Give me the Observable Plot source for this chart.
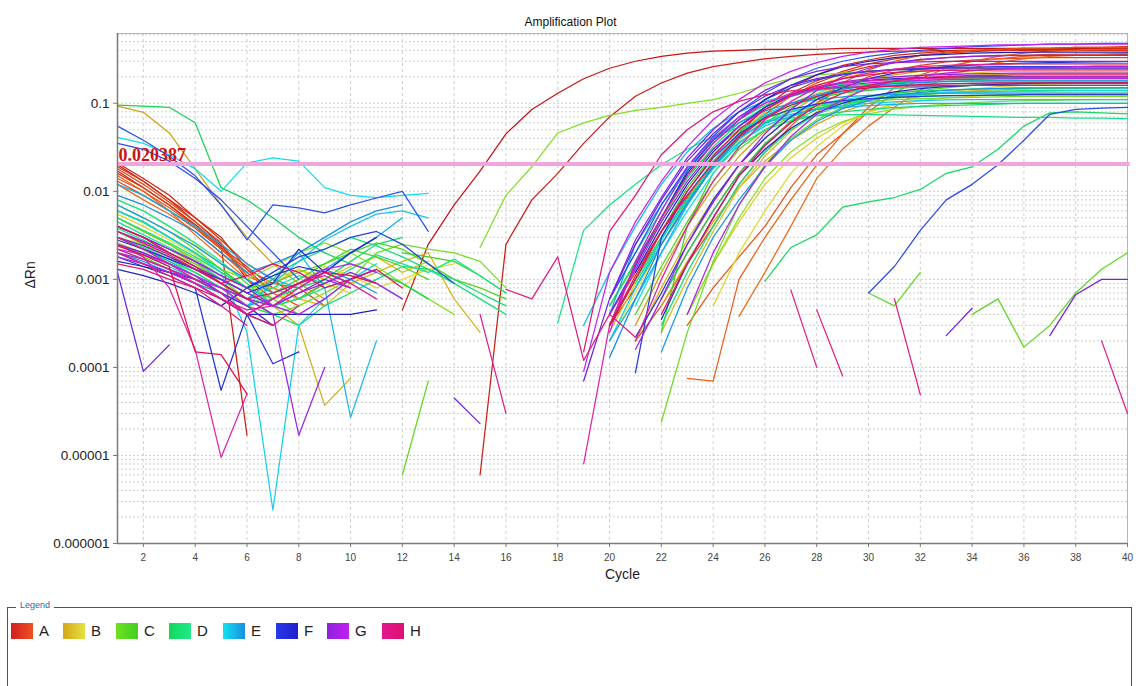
<!DOCTYPE html>
<html>
<head>
<meta charset="utf-8">
<script src="https://cdn.jsdelivr.net/npm/d3@7"></script>
<script src="https://cdn.jsdelivr.net/npm/@observablehq/plot@0.6"></script>
<style>
  html, body { margin: 0; padding: 0; background: #fff; width: 1136px; height: 686px; overflow: hidden; }
  #chart { position: absolute; left: 0; top: 0; }
  #legend { position: absolute; left: 7px; top: 607px; width: 1125px; height: 120px;
            border: 1.5px solid #2f5b78; box-sizing: border-box; font-family: "Liberation Sans", Arial, sans-serif; }
  #legend .cap { position: absolute; left: 8px; top: -8px; background: #fff; padding: 0 4px;
                 font-size: 9px; color: #3a62a8; }
  #legend .item { position: absolute; top: 14px; display: flex; align-items: center; }
  #legend .sw { width: 22px; height: 16px; }
  #legend .lab { margin-left: 6px; font-size: 15px; color: #222; }
</style>
</head>
<body>
<div id="chart"></div>
<div id="legend"><span class="cap">Legend</span></div>
<script>
// ---- data (ΔRn per cycle; "n|" sets the cycle where the following values start) ----
const cycles = d3.range(1, 41);
const rowNames = ["A", "B", "C", "D", "E", "F", "G", "H"];
const rowColors = [
  ["#c81414", "#ee6a18"], ["#cfa414", "#e4e034"], ["#8ce024", "#3ed024"], ["#18d458", "#14e898"],
  ["#12dcf0", "#1a8ee2"], ["#2a52f0", "#2020bc"], ["#6a22e0", "#c424f0"], ["#e024a8", "#e0104e"]
];
const legendSwatch = [
  ["#d02020", "#f05020"], ["#d4a818", "#e6e040"], ["#70e020", "#40d020"], ["#12d860", "#22e888"],
  ["#14e0f0", "#1890e0"], ["#2838e8", "#2020d0"], ["#9020e0", "#c020f0"], ["#e01890", "#e01070"]
];
const threshold = 0.020387;
const thresholdLabel = "0.020387";
const xTicks = d3.range(2, 41, 2);
const yTicks = [1e-6, 1e-5, 1e-4, 1e-3, 1e-2, 1e-1];
const yTickLabels = ["0.000001", "0.00001", "0.0001", "0.001", "0.01", "0.1"];

const rowA = [
  "1| 2e-2 1.3e-2 8e-3 4.5e-3 2.5e-3 1e-3 6e-4 12| 4.5e-4 2.5e-3 7e-3 1.7e-2 4.5e-2 8.5e-2 .13 .19 .25 .3 .34 .37 .39 .40 .41 .41 .41 .42 .42 .42 .42 .42 .42 .42 .42 .42 .42 .42 .42",
  "1| 1.7e-2 1.1e-2 7e-3 4.2e-3 2.4e-3 1.7e-5 15| 6e-6 2.5e-3 8e-3 1.6e-2 3.5e-2 7e-2 .12 .17 .22 .26 .29 .32 .34 .36 .37 .38 .39 .39 .4 .4 .4 .41 .41 .41 .42 .42",
  "1| 2.1e-2 1.4e-2 9e-3 5e-3 3e-3 1.3e-3 7e-4 20| 3e-4 8e-4 2.5e-3 7e-3 1.9e-2 4.5e-2 9e-2 .15 .21 .27 .31 .35 .37 .39 .40 .41 .42 .42 .43 .43 .44 .44",
  "1| 1.9e-2 1.3e-2 8e-3 5e-3 2.8e-3 1.5e-3 1e-3 6e-4 9e-4 20| 3e-4 1e-3 3e-3 8.5e-3 2e-2 4.3e-2 8e-2 .13 .18 .23 .28 .32 .35 .37 .385 .395 .4 .4 .4 .4 .4",
  "1| 1.6e-2 1.1e-2 7e-3 4e-3 2.3e-3 1.4e-3 8e-4 6e-4 20| 4e-4 1.2e-3 3.5e-3 9e-3 2.1e-2 4.2e-2 7.5e-2 .12 .17 .22 .26 .29 .31 .33 .34 .35 .35 .36 .36 .36 .36",
  "1| 1.3e-2 9e-3 6e-3 3.8e-3 2.2e-3 1.3e-3 9e-4 8e-4 5e-4 22| 6e-4 2e-3 6e-3 1.6e-2 3.4e-2 6.2e-2 .1 .15 .2 .24 .27 .295 .31 .32 .325 .33 .33 .33 .33",
  "1| 1.8e-2 1.2e-2 7.5e-3 4.5e-3 2.6e-3 1.1e-3 21| 2e-4 5e-4 1.5e-3 4e-3 1.2e-2 2.8e-2 5.5e-2 .1 .17 .24 .3 .35 .38 .40 .41 .42 .42 .43 .43 .43",
  "1| 1.4e-2 1e-2 6.5e-3 4e-3 2.2e-3 1.2e-3 7e-4 5e-4 23| 3e-4 8e-4 1.8e-3 4e-3 1.1e-2 2.6e-2 4.5e-2 8e-2 .13 .19 .25 .30 .34 .37 .39 .40 .41 .41",
  "1| 1.5e-2 1e-2 6e-3 3.2e-3 1.8e-3 1e-3 5e-4 23| 7.5e-5 7e-5 1e-3 3e-3 8e-3 2e-2 4.5e-2 9e-2 .15 .21 .26 .30 .32 .34 .35 .36 .36 .37",
  "1| 1.2e-2 8e-3 5.5e-3 3.5e-3 2e-3 1.1e-3 8e-4 6e-4 25| 3.8e-4 1.2e-3 4e-3 1.4e-2 3e-2 5.5e-2 9e-2 .14 .2 .25 .29 .32 .34 .35 .36 .37"
];
const rowB = [
  "1| 9.3e-2 7.9e-2 4.6e-2 1.8e-2 7e-3 3e-3 1.5e-3 9e-4 6e-4 21| 3e-4 1.2e-3 4e-3 1.1e-2 2.5e-2 4.8e-2 8e-2 .12 .16 .19 .21 .23 .24 .25 .25 .26 .26 .26 .27 .27",
  "1| 5e-3 3.5e-3 2.5e-3 1.6e-3 9e-4 6e-4 5e-4 3e-4 3.7e-5 7.5e-5 22| 5e-4 1.6e-3 4.5e-3 1.1e-2 2.2e-2 3.8e-2 5.8e-2 8e-2 .1 .115 .125 .132 .138 .142 .145 .147 .148 .15 .15",
  "1| 4e-3 3e-3 2.2e-3 1.5e-3 1e-3 7e-4 8e-4 6e-4 5e-4 9e-4 1.2e-3 1.6e-3 2e-3 6e-4 2.5e-4 21| 2e-4 8e-4 2.8e-3 8e-3 2e-2 4e-2 7e-2 .1 .13 .155 .17 .18 .19 .195 .2 .2 .2 .2 .2 .2",
  "1| 2.6e-3 2e-3 1.5e-3 1.1e-3 8e-4 6e-4 9e-4 1.3e-3 1e-3 1.4e-3 1.8e-3 1.2e-3 1.6e-3 22| 2.5e-4 1e-3 3.5e-3 1.1e-2 2.5e-2 4.8e-2 8e-2 .115 .15 .175 .19 .2 .208 .213 .217 .22 .22 .22 .22",
  "1| 3e-3 2.5e-3 1.8e-3 1.4e-3 9e-4 5e-4 4e-4 20| 2.5e-4 9e-4 3e-3 8e-3 1.9e-2 3.8e-2 6.5e-2 .1 .13 .16 .18 .2 .21 .22 .22 .23 .23 .23 .23 .23 .23",
  "1| 6e-3 4.5e-3 3e-3 2e-3 1.3e-3 8e-4 1e-3 1.3e-3 9e-4 7e-4 23| 4e-4 1.5e-3 4.5e-3 1.2e-2 2.4e-2 4e-2 6e-2 8e-2 .095 .107 .115 .12 .125 .128 .13 .13 .13 .13",
  "1| 5.5e-3 4e-3 2.8e-3 1.9e-3 1.2e-3 8e-4 6e-4 9e-4 1.4e-3 1.1e-3 8e-4 1e-3 1.3e-3 1.5e-3 24| 5e-4 2e-3 6e-3 1.6e-2 3.2e-2 5.5e-2 8e-2 .1 .12 .135 .145 .155 .16 .165 .168 .17 .17",
  "1| 8e-3 6e-3 4e-3 2.5e-3 1.5e-3 9e-4 6e-4 7e-4 9e-4 12| 8e-4 1.5e-3 20| 2e-4 7e-4 2.5e-3 8e-3 2.2e-2 4.5e-2 8e-2 .12 .16 .2 .22 .24 .25 .26 .27 .27 .28 .28 .28 .28 .28"
];
const rowC = [
  "1| 6e-3 4.4e-3 3e-3 2e-3 1.3e-3 1e-3 1.4e-3 2e-3 2.6e-3 2e-3 1.4e-3 9e-4 6e-4 4e-4 23| 4e-4 1.5e-3 5e-3 1.4e-2 2.8e-2 4.5e-2 6.2e-2 7.6e-2 8.6e-2 9.3e-2 9.8e-2 .102 .105 .107 .108 .109 .11 .11",
  "1| 3e-3 2.2e-3 1.6e-3 1.2e-3 8e-4 6e-4 4e-4 15| 2.3e-3 9e-3 1.9e-2 4.6e-2 6e-2 7.3e-2 8.3e-2 9e-2 .1 .11 .13 .16 .19 .21 .22 .23 .24 .24 .25 .25 .25 .25 .25 .25 .25 .25",
  "1| 4e-3 3e-3 2e-3 1.5e-3 1e-3 6e-4 4e-4 5e-4 7e-4 1e-3 2e-3 2.5e-3 2.2e-3 2e-3 1.6e-3 8e-4 20| 5e-4 1.5e-3 4.5e-3 1.5e-2 3e-2 5e-2 6.8e-2 8.2e-2 9.2e-2 .1 .105 .11 .113 .115 .117 .118 .12 .12 .12 .12 .12",
  "1| 5e-3 3.5e-3 2.5e-3 1.7e-3 1.1e-3 8e-4 6e-4 4e-4 22| 2.4e-5 2.5e-4 1.6e-3 7e-3 2e-2 4e-2 6.5e-2 9e-2 .11 .13 .14 .15 .16 .165 .17 .17 .17 .17 .17",
  "1| 2.5e-3 1.8e-3 1.3e-3 9e-4 7e-4 5e-4 3e-4 12| 6e-6 7e-5 30| 7e-4 5e-4 1.2e-3 34| 4e-4 6e-4 1.7e-4 3e-4 7e-4 1.3e-3 2e-3",
  "1| 7e-3 5e-3 3.5e-3 2.2e-3 1.3e-3 8e-4 9e-4 1.2e-3 1.5e-3 2e-3 2.6e-3 2.2e-3 1.5e-3 1e-3 8e-4 6e-4 21| 4e-4 1.4e-3 4.5e-3 1.3e-2 3e-2 5e-2 7e-2 8.8e-2 .1 .11 .12 .125 .13 .133 .136 .138 .14 .14 .14 .14",
  "1| 2.2e-3 1.7e-3 1.3e-3 1e-3 7e-4 5e-4 7e-4 1e-3 1.5e-3 2.2e-3 1.8e-3 1.4e-3 1e-3 22| 2.5e-4 4e-3 1.6e-2 3.5e-2 6e-2 9e-2 .12 .145 .162 .174 .182 .187 .19 .19 .19 .19 .19 .19 .19",
  "1| 3.5e-3 2.5e-3 1.8e-3 1.3e-3 1e-3 7e-4 5e-4 6e-4 9e-4 12| 2e-3 1.8e-3 1.6e-3 1.1e-3 7e-4 20| 3e-4 1e-3 3.5e-3 1.1e-2 2.6e-2 4.8e-2 7.2e-2 9.5e-2 .115 .13 .14 .148 .153 .157 .16 .16 .16 .16 .16 .16 .16"
];
const rowD = [
  "1| 9.5e-2 9.3e-2 9e-2 6e-2 1.1e-2 8e-3 5e-3 3e-3 2e-3 1.5e-3 1.2e-3 9e-4 6e-4 22| 6e-4 2e-3 6e-3 1.6e-2 3.5e-2 6e-2 8.5e-2 .105 .12 .13 .137 .142 .145 .147 .148 .15 .15 .15 .15",
  "1| 2.5e-3 2e-3 1.5e-3 1.1e-3 7e-4 5e-4 26| 9.5e-4 2.3e-3 3.2e-3 6.6e-3 7.6e-3 8.5e-3 1.05e-2 1.6e-2 1.9e-2 3e-2 5.5e-2 7.8e-2 8e-2 7.8e-2 7.6e-2",
  "1| 6e-3 4.5e-3 3e-3 2e-3 1.3e-3 8e-4 6e-4 8e-4 1e-3 1.6e-3 2.5e-3 3e-3 20| 5e-4 1.6e-3 5e-3 1.4e-2 3.2e-2 6e-2 9e-2 .12 .14 .155 .165 .17 .175 .178 .18 .18 .18 .18 .18 .18 .18",
  "1| 3e-3 2.3e-3 1.7e-3 1.2e-3 8e-4 5e-4 4e-4 3e-4 5e-4 7e-4 1e-3 1.4e-3 1.3e-3 1e-3 7e-4 5e-4 21| 1e-3 3e-3 8e-3 1.8e-2 3.3e-2 5e-2 6.3e-2 7.3e-2 8e-2 8.5e-2 8.9e-2 9.2e-2 9.4e-2 9.6e-2 9.8e-2 .1 .1 .1 .1 .1",
  "1| 5e-3 3.6e-3 2.6e-3 1.8e-3 1.2e-3 8e-4 1.1e-3 1.6e-3 2.2e-3 3e-3 2.4e-3 1.8e-3 1.3e-3 9e-4 6e-4 4e-4 22| 3e-4 1.2e-3 4e-3 1.2e-2 2.8e-2 5e-2 7.5e-2 9.5e-2 .11 .12 .127 .132 .135 .137 .138 .14 .14 .14 .14",
  "1| 4.5e-3 3.2e-3 2.3e-3 1.6e-3 1e-3 7e-4 5e-4 6e-4 8e-4 1e-3 1.3e-3 18| 3.2e-4 3.6e-3 7e-3 1.2e-2 2e-2 3e-2 4.2e-2 5.3e-2 6.2e-2 6.8e-2 7.2e-2 7.4e-2 7.5e-2 7.4e-2 7.3e-2 7.2e-2 7.1e-2 7e-2 6.9e-2 6.9e-2 6.8e-2 6.8e-2 6.7e-2",
  "1| 3.8e-3 2.8e-3 2e-3 1.4e-3 9e-4 6e-4 8e-4 1.1e-3 9e-4 1.3e-3 1.9e-3 1.5e-3 1.2e-3 1.7e-3 1.1e-3 7e-4 21| 9e-4 2.8e-3 8e-3 2.1e-2 4e-2 6.2e-2 8e-2 9.4e-2 .104 .111 .116 .119 .121 .123 .124 .125 .125 .125 .125 .125",
  "1| 8e-3 6e-3 4e-3 2.6e-3 1.6e-3 9e-4 5e-4 4e-4 20| 6e-4 2e-3 6e-3 1.8e-2 3.8e-2 6.5e-2 9.5e-2 .125 .15 .165 .178 .186 .192 .196 .198 .2 .2 .2 .2 .2 .2"
];
const rowE = [
  "1| 4.1e-2 3.5e-2 2.6e-2 1.8e-2 1e-2 2.1e-2 2.4e-2 2.2e-2 1.1e-2 9e-3 8.5e-3 9e-3 9.5e-3 21| 5e-4 2e-3 6e-3 1.6e-2 3.5e-2 5.8e-2 8e-2 9.8e-2 .11 .12 .125 .13 .132 .134 .135 .136 .137 .138 .138 .138",
  "1| 6e-3 4.5e-3 3e-3 2e-3 1.2e-3 2.5e-4 2.4e-6 3e-4 6e-4 1e-3 1.5e-3 20| 2e-4 8e-4 2.8e-3 9e-3 2.2e-2 4.5e-2 7.5e-2 .1 .12 .135 .145 .15 .155 .158 .16 .16 .16 .16 .16 .16 .16",
  "1| 2.5e-3 1.9e-3 1.4e-3 1e-3 7e-4 5e-4 9e-4 1.6e-3 2.8e-3 4e-3 5.5e-3 6e-3 5e-3 21| 8e-4 2.5e-3 7e-3 1.9e-2 3.6e-2 5.5e-2 7.2e-2 8.5e-2 9.4e-2 .1 .104 .107 .109 .11 .11 .11 .11 .11 .11 .11",
  "1| 3e-3 2.2e-3 1.6e-3 1.1e-3 8e-4 6e-4 1e-3 2e-3 8e-4 2.7e-5 2e-4 19| 3e-4 1.2e-3 4e-3 1.2e-2 2.8e-2 5.2e-2 8e-2 .105 .125 .14 .15 .157 .162 .165 .167 .168 .17 .17 .17 .17 .17 .17",
  "1| 1.2e-2 9e-3 6e-3 4e-3 2.5e-3 1.5e-3 1e-3 8e-4 1.2e-3 2e-3 3e-3 5e-3 20| 2e-4 6e-4 2e-3 7e-3 2e-2 4e-2 6e-2 7.5e-2 8.5e-2 9e-2 9.4e-2 9.7e-2 .1 .1 .1 .1 .1 .1 .1 .1 .1",
  "1| 2e-3 1.6e-3 1.2e-3 9e-4 7e-4 5e-4 6e-4 9e-4 1.3e-3 2e-3 20| 4e-4 2.5e-3 7e-3 1.8e-2 3.8e-2 6e-2 8.2e-2 .1 .11 .118 .123 .126 .128 .13 .13 .13 .13 .13 .13 .13 .13",
  "1| 7e-3 5e-3 3.5e-3 2.4e-3 1.5e-3 1e-3 7e-4 9e-4 1.3e-3 1e-3 7e-4 22| 1.5e-4 8e-4 3e-3 8e-3 1.9e-2 3.8e-2 6.2e-2 8.7e-2 .107 .122 .133 .14 .145 .148 .15 .15 .15 .15 .15",
  "1| 9e-3 7e-3 5e-3 3.5e-3 2e-3 1.2e-3 1.5e-3 2e-3 3e-3 4.5e-3 6e-3 7e-3 20| 1.3e-4 6e-4 2.5e-3 7.5e-3 1.9e-2 4e-2 7e-2 .1 .125 .145 .158 .167 .172 .176 .178 .18 .18 .18 .18 .18 .18"
];
const rowF = [
  "1| 5.5e-2 3.8e-2 2.5e-2 1.5e-2 7e-3 2.8e-3 7e-3 6.5e-3 5.7e-3 7e-3 8.4e-3 1e-2 3.5e-3 20| 6e-4 2e-3 7e-3 1.9e-2 4.2e-2 8e-2 .13 .19 .25 .3 .34 .37 .4 .42 .44 .45 .46 .47 .47 .48 .48",
  "1| 3.5e-2 3e-2 2.2e-2 1.4e-2 8e-3 4e-3 2e-3 1e-3 30| 7e-4 1.4e-3 3.6e-3 8e-3 1.2e-2 2e-2 3.8e-2 7.5e-2 8.5e-2 8.8e-2 9e-2",
  "1| 4e-3 3e-3 2.2e-3 1.6e-3 1.1e-3 8e-4 1.2e-3 1.8e-3 2.2e-3 3e-3 3.5e-3 2.5e-3 1.5e-3 9e-4 20| 4e-4 1.4e-3 5e-3 1.7e-2 3.8e-2 7e-2 .11 .15 .185 .21 .23 .243 .25 .255 .258 .26 .26 .26 .26 .26 .26",
  "1| 2e-3 1.5e-3 1.2e-3 1e-3 7e-4 4e-4 3e-4 21| 8.7e-5 3e-3 1e-2 2.4e-2 4.5e-2 6.8e-2 8.5e-2 9.8e-2 .107 .113 .117 .12 .122 .123 .124 .125 .125 .125 .125 .125",
  "1| 1.8e-3 1.4e-3 1.1e-3 8e-4 5.5e-5 4e-4 1.1e-4 1.5e-4 21| 2.2e-4 7e-4 2.5e-3 8e-3 2e-2 4e-2 7e-2 .11 .15 .19 .22 .245 .26 .272 .28 .285 .29 .293 .295 .297",
  "1| 2.8e-3 2.2e-3 1.7e-3 1.3e-3 1e-3 7e-4 9e-4 2.2e-3 1.2e-3 9e-4 21| 1.2e-3 4e-3 1.2e-2 2.8e-2 5.5e-2 9e-2 .125 .15 .17 .182 .19 .195 .198 .2 .2 .2 .2 .2 .2 .2",
  "1| 1.3e-3 1.1e-3 9e-4 7e-4 5e-4 8e-4 1.1e-3 1.4e-3 1.2e-3 2e-3 3e-3 22| 3.5e-4 1.5e-3 5e-3 1.5e-2 3e-2 5.2e-2 7.8e-2 .1 .12 .135 .147 .155 .16 .164 .167 .17 .17 .17 .17",
  "1| 1.6e-3 1.4e-3 1.2e-3 9e-4 6e-4 4e-4 4e-4 4e-4 4e-4 4e-4 4.5e-4 20| 3e-4 1.5e-3 5e-3 1.6e-2 3.5e-2 6.5e-2 .11 .16 .21 .26 .3 .33 .35 .36 .37 .375 .38 .38 .38 .38 .38"
];
const rowG = [
  "1| 1.2e-3 9e-5 1.8e-4 19| 7e-5 6e-4 2.5e-3 8e-3 2.2e-2 4.5e-2 8e-2 .12 .16 .19 .215 .23 .24 .245 .25 .25 .25 .25 .25 .25 .25 .25",
  "1| 2.5e-3 2e-3 1.5e-3 1.1e-3 7e-4 5e-4 3e-4 14| 4.5e-5 2.3e-5 33| 2.3e-4 4.7e-4 37| 2.3e-4 6.7e-4 1e-3 1e-3",
  "1| 3e-3 2.4e-3 1.8e-3 1.3e-3 9e-4 6e-4 5e-4 7e-4 1e-3 8e-4 20| 6e-4 2.8e-3 8.5e-3 2.4e-2 5e-2 9e-2 .14 .19 .23 .26 .28 .29 .295 .3 .3 .3 .3 .3 .3 .3 .3",
  "1| 3.5e-3 2.7e-3 2e-3 1.4e-3 1e-3 7e-4 5e-4 7e-4 9e-4 1.2e-3 9e-4 6e-4 21| 1.6e-4 6e-4 2.5e-3 7.5e-3 2e-2 4.5e-2 8.5e-2 .14 .2 .25 .29 .315 .33 .34 .345 .35 .35 .35 .35 .35",
  "1| 2e-3 1.7e-3 1.3e-3 1e-3 8e-4 6e-4 4e-4 1.7e-5 1e-4 20| 4e-4 1.3e-3 4.5e-3 1.3e-2 3e-2 5.5e-2 8.5e-2 .12 .15 .175 .19 .2 .207 .212 .215 .218 .22 .22 .22 .22 .22",
  "1| 4e-3 3e-3 2.2e-3 1.6e-3 1.1e-3 8e-4 5e-4 4e-4 6e-4 1e-3 1.3e-3 23| 4e-4 2e-3 7e-3 1.9e-2 4.2e-2 7.5e-2 .11 .15 .18 .205 .22 .235 .245 .25 .255 .26 .26 .26",
  "1| 1.8e-3 1.5e-3 1.2e-3 9e-4 6e-4 4e-4 6e-4 9e-4 1.3e-3 1.5e-3 1.2e-3 20| 2.5e-4 1.6e-3 6e-3 1.9e-2 4e-2 7e-2 .1 .125 .145 .16 .17 .177 .182 .185 .187 .189 .19 .19 .19 .19 .19",
  "1| 2.2e-3 1.9e-3 1.5e-3 1.1e-3 8e-4 5e-4 19| 9e-5 1.2e-3 4.5e-3 1.3e-2 3.2e-2 6.5e-2 .11 .17 .23 .29 .34 .38 .41 .43 .44 .45 .46 .46 .47 .47 .47 .47"
];
const rowH = [
  "1| 2.5e-3 1.8e-3 8e-4 1.6e-4 9.5e-6 5e-5 19| 8e-6 3e-4 1.5e-3 5e-3 1.5e-2 3.5e-2 6.5e-2 .1 .13 .155 .17 .18 .186 .19 .193 .195 .197 .198 .2 .2 .2 .2",
  "1| 2.2e-3 1.7e-3 1.3e-3 9e-4 6e-4 4.5e-4 5e-4 8e-4 1.2e-3 9e-4 6e-4 21| 2e-4 1e-3 4e-3 1.3e-2 3.2e-2 6.5e-2 .105 .15 .19 .22 .245 .26 .27 .275 .278 .28 .28 .28 .28 .28",
  "1| 3e-3 2.2e-3 1.5e-3 1e-3 7e-4 4e-4 6e-4 9e-4 1.1e-3 8e-4 15| 4e-4 3e-5 27| 7.6e-4 1e-4 39| 2e-4 3e-5",
  "1| 2e-3 1.5e-3 1.1e-3 8e-4 5e-4 3e-4 16| 7.7e-4 6e-4 1.8e-3 1.2e-4 4e-4 2.2e-4 28| 4.5e-4 8e-5 31| 6e-4 4.9e-5",
  "1| 1.5e-3 1.3e-3 1e-3 8e-4 6e-4 4e-4 3e-4 5e-4 19| 1.5e-4 3.5e-3 9e-3 2.6e-2 5e-2 8e-2 .105 .125 .138 .146 .152 .155 .157 .158 .159 .16 .16 .16 .16 .16 .16 .16",
  "1| 3.5e-3 2.6e-3 1.9e-3 1.3e-3 9e-4 1.1e-3 1.5e-3 1.2e-3 8e-4 1e-3 1.3e-3 8e-4 22| 4e-4 1.5e-3 5e-3 1.5e-2 3.3e-2 6e-2 9.5e-2 .13 .16 .18 .195 .202 .206 .208 .21 .21 .21 .21 .21",
  "1| 4e-3 3e-3 2e-3 1.4e-3 9e-4 6e-4 7e-4 9e-4 1.2e-3 1.1e-3 9e-4 20| 3e-4 1e-3 3.5e-3 1e-2 2.5e-2 5e-2 8.5e-2 .125 .16 .19 .21 .225 .232 .236 .238 .24 .24 .24 .24 .24 .24",
  "1| 2.4e-3 1.9e-3 1.4e-3 1.5e-4 1.4e-4 5e-5 20| 3e-4 1.1e-3 3.5e-3 9e-3 2.1e-2 4.2e-2 6.8e-2 9.5e-2 .12 .138 .15 .158 .163 .166 .168 .17 .17 .17 .17 .17 .17"
];
const rows = [rowA, rowB, rowC, rowD, rowE, rowF, rowG, rowH];

// ---- build table ----
function parseWell(s) {
  const v = new Array(cycles.length).fill(null);
  let c = 1;
  for (const t of s.trim().split(/\s+/)) {
    if (t.endsWith("|")) c = +t.slice(0, -1);
    else { if (c >= 1 && c <= cycles.length) v[c - 1] = +t; c++; }
  }
  return v;
}
const table = [];
rows.forEach((wells, r) => {
  const interp = d3.interpolateRgb(rowColors[r][0], rowColors[r][1]);
  wells.forEach((s, i) => {
    const col = interp(wells.length > 1 ? i / (wells.length - 1) : 0);
    const vals = parseWell(s);
    cycles.forEach((c, k) => table.push({well: rowNames[r] + (i + 1), cycle: c, value: vals[k], color: col}));
  });
});

const minorGrid = [];
for (let e = -6; e <= -1; e++) for (let m = 1; m <= 9; m++) {
  const v = m * Math.pow(10, e);
  if (v <= 0.62) minorGrid.push(v);
}

const chart = Plot.plot({
  width: 1136, height: 600,
  marginTop: 33, marginLeft: 117, marginRight: 9, marginBottom: 57,
  style: {fontFamily: "'Liberation Sans', Arial, sans-serif", background: "transparent", overflow: "visible"},
  color: {type: "identity"},
  x: {domain: [1, 40], label: null},
  y: {type: "log", domain: [1e-6, 0.62], label: null},
  marks: [
    Plot.ruleY(minorGrid, {stroke: "#cfcfcf", strokeDasharray: "2,2", strokeWidth: 1}),
    Plot.ruleX(xTicks, {stroke: "#cfcfcf", strokeDasharray: "3,3", strokeWidth: 1}),
    Plot.frame({stroke: "#b4b4b4"}),
    Plot.line(table, {x: "cycle", y: "value", z: "well", stroke: "color", strokeWidth: 1.25, curve: "linear"}),
    Plot.ruleY([threshold], {stroke: "#eea6dc", strokeWidth: 4, x1: 1, x2: 40.1}),
    Plot.text([thresholdLabel], {x: 1, y: threshold, text: d => d, textAnchor: "start", dx: 1, dy: -9,
      fill: "#cc1414", fontWeight: "bold", fontFamily: "'Liberation Serif', serif", fontSize: 18}),
    Plot.ruleY([1e-6], {stroke: "#7a7a7a", strokeWidth: 1.5}),
    Plot.ruleX([1], {stroke: "#7a7a7a", strokeWidth: 1.5}),
    Plot.axisX({ticks: xTicks, tickSize: 4, tickPadding: 6, tickFormat: d => String(d), fontSize: 10, fill: "#444", stroke: "#777", label: null}),
    Plot.axisY({ticks: yTicks, tickSize: 4, tickPadding: 4, tickFormat: d => yTickLabels[yTicks.indexOf(d)], fontSize: 13.5, fill: "#222", stroke: "#777", label: null}),
    Plot.text(["Amplification Plot"], {frameAnchor: "top", dx: -52, dy: -16, fontSize: 12, fill: "#111"}),
    Plot.text(["Cycle"], {frameAnchor: "bottom", dy: 35, fontSize: 14, fill: "#222"}),
    Plot.text(["ΔRn"], {frameAnchor: "left", dx: -87, rotate: -90, fontSize: 14, fill: "#222"})
  ]
});
document.getElementById("chart").appendChild(chart);

// ---- legend ----
const legend = document.getElementById("legend");
const legendX = [3, 55, 108, 161, 215, 268, 319, 374];
rowNames.forEach((n, i) => {
  const it = document.createElement("div");
  it.className = "item";
  it.style.left = legendX[i] + "px";
  const sw = document.createElement("div");
  sw.className = "sw";
  sw.style.background = `linear-gradient(90deg, ${legendSwatch[i][0]}, ${legendSwatch[i][1]})`;
  const lab = document.createElement("span");
  lab.className = "lab";
  lab.textContent = n;
  it.appendChild(sw); it.appendChild(lab);
  legend.appendChild(it);
});
</script>
</body>
</html>
